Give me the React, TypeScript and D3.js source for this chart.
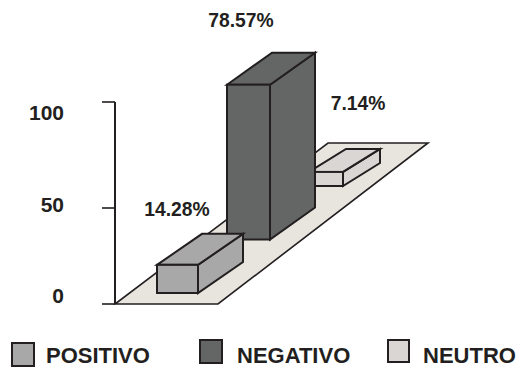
import React from "react";
import * as d3 from "d3";

const categories = ["POSITIVO", "NEGATIVO", "NEUTRO"];
const percentages = [14.28, 78.57, 7.14];
const percentLabels = ["14.28%", "78.57%", "7.14%"];
const fills = ["#a9a8a8", "#636664", "#d9d6d3"];
const axisTicks = [0, 50, 100];

const INK = "#231f20";
const FONT = "'Liberation Sans', Arial, sans-serif";

// Front-left corner of every box along the receding floor.
const xFront = d3.scaleOrdinal<string, number>().domain(categories).range([157, 227, 309]);
const yBase = d3.scalePoint<string>().domain(categories).range([293, 186]);
const frontWidth = d3.scaleOrdinal<string, number>().domain(categories).range([41, 43, 34]);
const depthX = d3.scaleOrdinal<string, number>().domain(categories).range([45, 45, 37]);
const depthY = d3.scaleOrdinal<string, number>().domain(categories).range([31, 32, 23]);
const barHeight = d3.scaleLinear().domain([0, 100]).range([0, 197]);
const yAxis = d3.scaleLinear().domain([0, 50, 100]).range([304, 208, 102]);

const labelPos = d3.scaleOrdinal<string, [number, number]>().domain(categories)
  .range([[177, 216], [241, 27], [358, 110]]);
const legendSwatch = d3.scaleOrdinal<string, [number, number, number]>().domain(categories)
  .range([[12, 343, 23], [200, 340, 23], [388, 340, 22]]);
const legendText = d3.scaleOrdinal<string, number>().domain(categories).range([46, 237, 423]);

const poly = d3.line();

function Box({ name, index }: { name: string; index: number }) {
  const x0 = xFront(name);
  const x1 = x0 + frontWidth(name);
  const yb = yBase(name) as number;
  const yt = yb - barHeight(percentages[index]);
  const dx = depthX(name);
  const dy = depthY(name);
  const common = { fill: fills[index], stroke: INK, strokeWidth: 2, strokeLinejoin: "miter" as const };
  return (
    <g>
      <path {...common} d={poly([[x1, yt], [x1 + dx, yt - dy], [x1 + dx, yb - dy], [x1, yb]]) + "Z"} />
      <path {...common} d={poly([[x0, yt], [x0 + dx, yt - dy], [x1 + dx, yt - dy], [x1, yt]]) + "Z"} />
      <rect {...common} x={x0} y={yt} width={x1 - x0} height={yb - yt} />
    </g>
  );
}

export default function App() {
  const [y0] = yAxis.range();
  const yTop = yAxis(100);
  return (
    <svg width={519} height={367} style={{ position: "fixed", left: 0, top: 0, background: "#fff" }} fontFamily={FONT} fontWeight="bold">
      {/* floor of the chart */}
      <path d={poly([[115, 304], [218, 304], [428, 143], [328, 143]]) + "Z"} fill="#e8e4de" stroke={INK} strokeWidth={1.6} />

      {/* value axis */}
      <path d={`M115,${yTop}V${y0}`} stroke={INK} strokeWidth={2} fill="none" />
      {axisTicks.map((t) => (
        <g key={t}>
          <line x1={102} x2={115} y1={yAxis(t)} y2={yAxis(t)} stroke={INK} strokeWidth={1.6} />
          <text x={64} y={t === 100 ? 120 : t === 50 ? 212 : 303} textAnchor="end" fontSize={21} fill={INK}>{t}</text>
        </g>
      ))}

      {/* painted back to front */}
      {[2, 1, 0].map((i) => <Box key={categories[i]} name={categories[i]} index={i} />)}

      {categories.map((c, i) => {
        const [lx, ly] = labelPos(c);
        return <text key={c} x={lx} y={ly} textAnchor="middle" fontSize={19.3} fill={INK}>{percentLabels[i]}</text>;
      })}

      {/* legend */}
      {categories.map((c, i) => {
        const [sx, sy, s] = legendSwatch(c);
        return (
          <g key={c}>
            <rect x={sx} y={sy} width={s - 1} height={s} fill={fills[i]} stroke={INK} strokeWidth={2} />
            <text x={legendText(c)} y={363} fontSize={22} fill={INK}>{c}</text>
          </g>
        );
      })}
    </svg>
  );
}
